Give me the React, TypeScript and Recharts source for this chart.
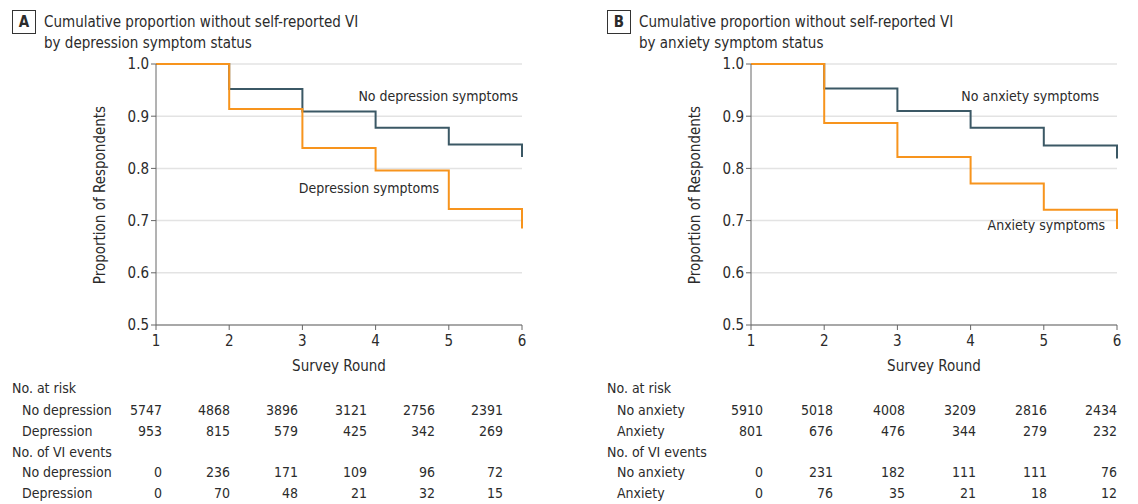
import { LineChart, Line, XAxis, YAxis, CartesianGrid } from "recharts";

const rounds = [1, 2, 3, 4, 5, 6];
const yTicks = [0.5, 0.6, 0.7, 0.8, 0.9, 1.0];

// panel A: depression
const noDepression = [1, 0.952, 0.909, 0.878, 0.846, 0.822];
const depression = [1, 0.914, 0.839, 0.796, 0.722, 0.685];
// panel B: anxiety
const noAnxiety = [1, 0.953, 0.91, 0.878, 0.844, 0.819];
const anxiety = [1, 0.887, 0.822, 0.771, 0.721, 0.684];

const atRiskNoDep = [5747, 4868, 3896, 3121, 2756, 2391];
const atRiskDep = [953, 815, 579, 425, 342, 269];
const eventsNoDep = [0, 236, 171, 109, 96, 72];
const eventsDep = [0, 70, 48, 21, 32, 15];

const atRiskNoAnx = [5910, 5018, 4008, 3209, 2816, 2434];
const atRiskAnx = [801, 676, 476, 344, 279, 232];
const eventsNoAnx = [0, 231, 182, 111, 111, 76];
const eventsAnx = [0, 76, 35, 21, 18, 12];

const FONT = '"DejaVu Sans Condensed", "Roboto", sans-serif';
const TEXT = "#2b2b2b";
const DARK = "#3b5865";
const ORANGE = "#f7941d";
const AXIS = "#666";

function T({ x, y, children, anchor = "start", size = 14, weight = 400 }: any) {
  const tx = anchor === "end" ? "-100%" : anchor === "middle" ? "-50%" : "0";
  return (
    <div
      style={{
        position: "absolute",
        left: x,
        top: y - 10,
        height: 20,
        lineHeight: "20px",
        fontSize: size,
        fontWeight: weight,
        color: TEXT,
        whiteSpace: "nowrap",
        transform: `translateX(${tx})`,
      }}
    >
      {children}
    </div>
  );
}

function Panel({ left, letter, title2, upper, lower, upperLabel, lowerLabel, upperPos, lowerPos, rowNames, risk, events, cols }: any) {
  const data = rounds.map((r, i) => ({ round: r, a: upper[i], b: lower[i] }));
  return (
    <div style={{ position: "absolute", left, top: 0, width: 560, height: 504 }}>
      <div
        style={{
          position: "absolute",
          left: 12,
          top: 10,
          width: 22,
          height: 22,
          border: "1px solid #333",
          fontWeight: 700,
          fontSize: 15,
          lineHeight: "22px",
          textAlign: "center",
          color: TEXT,
        }}
      >
        {letter}
      </div>
      <T x={44} y={22} size={15}>Cumulative proportion without self-reported VI</T>
      <T x={44} y={43} size={15}>{title2}</T>
      <LineChart
        width={540}
        height={360}
        data={data}
        margin={{ top: 64, right: 18, bottom: 5, left: 106 }}
        style={{ position: "absolute", left: 0, top: 0 }}
      >
        <CartesianGrid vertical={false} stroke="#e3e3e3" strokeWidth={1.5} />
        <XAxis
          dataKey="round"
          type="number"
          domain={[1, 6]}
          ticks={rounds}
          height={30}
          stroke={AXIS}
          tickSize={5}
          tickMargin={5}
          tick={{ fill: TEXT, fontSize: 15, fontFamily: FONT }}
        />
        <YAxis
          type="number"
          domain={[0.5, 1]}
          ticks={yTicks}
          width={50}
          stroke={AXIS}
          tickSize={5}
          tickMargin={2}
          tickFormatter={(v: number) => v.toFixed(1)}
          tick={{ fill: TEXT, fontSize: 15, fontFamily: FONT }}
        />
        <Line type="stepAfter" dataKey="a" stroke={DARK} strokeWidth={2} dot={false} isAnimationActive={false} />
        <Line type="stepAfter" dataKey="b" stroke={ORANGE} strokeWidth={2} dot={false} isAnimationActive={false} />
      </LineChart>
      <div
        style={{
          position: "absolute",
          left: 100,
          top: 195,
          transform: "translate(-50%, -50%) rotate(-90deg)",
          fontSize: 15,
          color: TEXT,
          whiteSpace: "nowrap",
        }}
      >
        Proportion of Respondents
      </div>
      <T x={339} y={366} anchor="middle" size={15}>Survey Round</T>
      <T x={upperPos[0]} y={upperPos[1]} anchor="end">{upperLabel}</T>
      <T x={lowerPos[0]} y={lowerPos[1]} anchor="end">{lowerLabel}</T>

      <T x={12} y={388}>No. at risk</T>
      <T x={22} y={410}>{rowNames[0]}</T>
      <T x={22} y={431}>{rowNames[1]}</T>
      <T x={12} y={452}>No. of VI events</T>
      <T x={22} y={472}>{rowNames[0]}</T>
      <T x={22} y={493}>{rowNames[1]}</T>
      {[risk[0], risk[1], events[0], events[1]].map((row: number[], r: number) =>
        row.map((v, i) => (
          <T key={`${r}-${i}`} x={cols[i]} y={[410, 431, 472, 493][r]} anchor="end">
            {v}
          </T>
        ))
      )}
    </div>
  );
}

export default function App() {
  return (
    <div
      style={{
        position: "fixed",
        left: 0,
        top: 0,
        width: 1138,
        height: 504,
        background: "#fff",
        fontFamily: FONT,
        overflow: "hidden",
      }}
    >
      <Panel
        left={0}
        letter="A"
        title2="by depression symptom status"
        upper={noDepression}
        lower={depression}
        upperLabel="No depression symptoms"
        lowerLabel="Depression symptoms"
        upperPos={[518, 96]}
        lowerPos={[439, 188]}
        rowNames={["No depression", "Depression"]}
        risk={[atRiskNoDep, atRiskDep]}
        events={[eventsNoDep, eventsDep]}
        cols={[162, 230, 298, 367, 435, 503]}
      />
      <Panel
        left={595}
        letter="B"
        title2="by anxiety symptom status"
        upper={noAnxiety}
        lower={anxiety}
        upperLabel="No anxiety symptoms"
        lowerLabel="Anxiety symptoms"
        upperPos={[504, 96]}
        lowerPos={[510, 225]}
        rowNames={["No anxiety", "Anxiety"]}
        risk={[atRiskNoAnx, atRiskAnx]}
        events={[eventsNoAnx, eventsAnx]}
        cols={[168, 238, 310, 381, 452, 522]}
      />
    </div>
  );
}
